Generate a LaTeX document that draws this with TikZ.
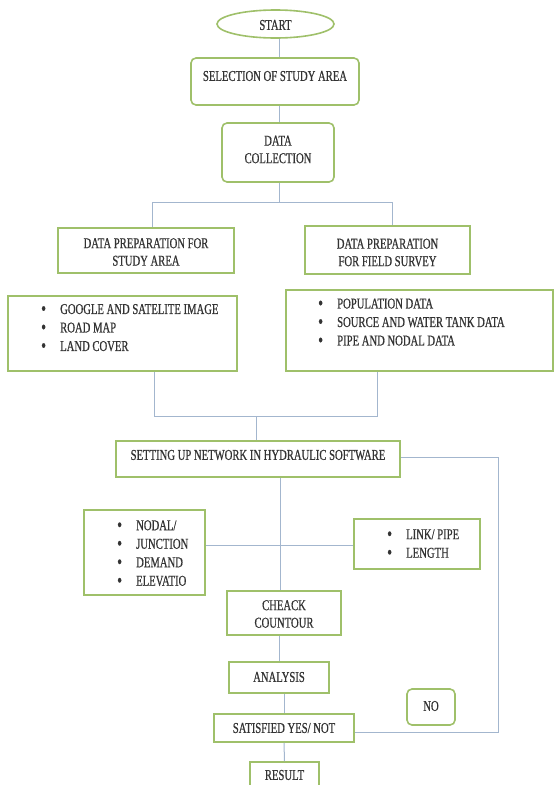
\documentclass[tikz,border=0pt]{standalone}
\usepackage{fontspec}
\setmainfont{Liberation Serif}[FakeStretch=0.71,FakeBold=0.6]
\usetikzlibrary{shapes.geometric}
\definecolor{bgreen}{HTML}{9FC06A}
\definecolor{lblue}{HTML}{A3B6CE}
\definecolor{tgray}{HTML}{333333}
\newcommand{\bul}{\makebox[19pt][l]{\raisebox{-1pt}{\scalebox{1.3}{\textbullet}}}}
\tikzset{
  box/.style={draw=bgreen, line width=1.6pt, fill=white, inner sep=0pt},
  rbox/.style={box, rounded corners=5pt},
  txt/.style={text=tgray, font=\fontsize{15}{17.5}\selectfont, align=center, inner sep=0pt},
  btxt/.style={text=tgray, font=\fontsize{15}{18.5}\selectfont, align=left, anchor=west, inner sep=0pt},
  conn/.style={draw=lblue, line width=1pt}
}
\begin{document}
\begin{tikzpicture}[x=1pt,y=-1pt]
\useasboundingbox (0,0) rectangle (559,785);
\clip (0,0) rectangle (559,785);
\coordinate (ja) at (152,202);
\coordinate (jb) at (392,202);
\coordinate (jm) at (279,202);
\coordinate (jc) at (154,416);
\coordinate (jd) at (377,416);
\coordinate (jn) at (256,416);
\coordinate (je) at (498,457);
\coordinate (jf) at (498,732);
\coordinate (mx) at (280,545);
% boxes
\node[box, ellipse, minimum width=117pt, minimum height=28pt] (start) at (275.5,24) {};
\node[rbox, minimum width=168pt, minimum height=47pt] (sel) at (275,81.5) {};
\node[rbox, minimum width=112pt, minimum height=59pt] (dc) at (278,152.5) {};
\node[box, minimum width=176pt, minimum height=45pt] (dpsa) at (146,250.5) {};
\node[box, minimum width=165pt, minimum height=48pt] (dpfs) at (387.5,250) {};
\node[box, minimum width=229pt, minimum height=75pt] (lb) at (122.5,333.5) {};
\node[box, minimum width=267pt, minimum height=81pt] (rb) at (419.5,330.5) {};
\node[box, minimum width=284pt, minimum height=36pt] (set) at (258,459) {};
\node[box, minimum width=121pt, minimum height=85pt] (nod) at (144.5,552.5) {};
\node[box, minimum width=126pt, minimum height=50pt] (link) at (417,544) {};
\node[box, minimum width=114pt, minimum height=44pt] (chk) at (284,613) {};
\node[box, minimum width=100pt, minimum height=31pt] (ana) at (279,677.5) {};
\node[box, minimum width=140pt, minimum height=28pt] (sat) at (284,728) {};
\node[rbox, minimum width=48pt, minimum height=36pt] (no) at (431,707) {};
\node[box, minimum width=69pt, minimum height=40pt] (res) at (284.5,782) {};
% connectors
\draw[conn] (start.south -| 279,0) -- (sel.north -| 279,0);
\draw[conn] (sel.south -| 279,0) -- (dc.north -| 279,0);
\draw[conn] (dc.south -| jm) -- (jm);
\draw[conn] (ja) -- (jb);
\draw[conn] (ja) -- (ja |- dpsa.north);
\draw[conn] (jb) -- (jb |- dpfs.north);
\draw[conn] (jc |- lb.south) -- (jc) -- (jd) -- (jd |- rb.south);
\draw[conn] (jn) -- (jn |- set.north);
\draw[conn] (set.east |- je) -- (je) -- (jf) -- (jf -| sat.east);
\draw[conn] (mx |- set.south) -- (mx |- chk.north);
\draw[conn] (nod.east |- mx) -- (link.west |- mx);
\draw[conn] (chk.south -| ana.north) -- (ana.north);
\draw[conn] (ana.south -| sat.north) -- (sat.north);
\draw[conn] (sat.south) -- (res.north);
% texts
\node[txt] (startt) at (275.5,25) {START};
\node[txt] (selt) at (275,76) {SELECTION OF STUDY AREA};
\node[txt] (dct) at (278,149.5) {DATA\\COLLECTION};
\node[txt] (dpsat) at (146,252) {DATA PREPARATION FOR\\STUDY AREA};
\node[txt] (dpfst) at (387.5,252.5) {DATA PREPARATION\\FOR FIELD SURVEY};
\node[btxt] (lbt) at (41,328) {\bul GOOGLE AND SATELITE IMAGE\\\bul ROAD MAP\\\bul LAND COVER};
\node[btxt] (rbt) at (318,322.5) {\bul POPULATION DATA\\\bul SOURCE AND WATER TANK DATA\\\bul PIPE AND NODAL DATA};
\node[txt] (sett) at (258,455) {SETTING UP NETWORK IN HYDRAULIC SOFTWARE};
\node[btxt] (nodt) at (117,553.5) {\bul NODAL/\\\bul JUNCTION\\\bul DEMAND\\\bul ELEVATIO};
\node[btxt] (linkt) at (387,544) {\bul LINK/ PIPE\\\bul LENGTH};
\node[txt] (chkt) at (284,614) {CHEACK\\COUNTOUR};
\node[txt] (anat) at (279,677) {ANALYSIS};
\node[txt] (satt) at (284,728) {SATISFIED YES/ NOT};
\node[txt] (not) at (431,706) {NO};
\node[txt] (rest) at (284.5,775) {RESULT};
\end{tikzpicture}
\end{document}
